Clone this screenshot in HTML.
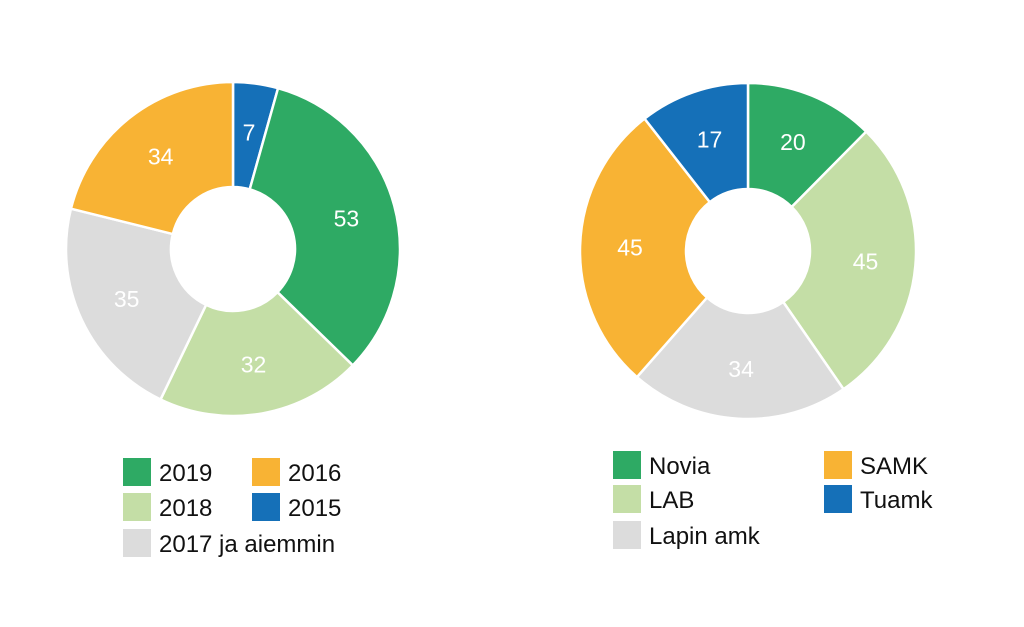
<!DOCTYPE html>
<html><head><meta charset="utf-8"><style>
html,body{margin:0;padding:0;background:#fff;}
svg{display:block;font-family:"Liberation Sans",sans-serif;}
</style></head><body>
<svg id="chart" width="1024" height="627" viewBox="0 0 1024 627">
<g id="left"></g>
<g id="right"></g>
<g id="legend-left"></g>
<g id="legend-right"></g>
</svg>
<script>
const leftCategories = ["2015","2019","2018","2017 ja aiemmin","2016"];
const leftValues = [7,53,32,35,34];
const leftColors = ["#1570b8","#2eaa64","#c4dea6","#dcdcdc","#f8b334"];
const rightCategories = ["Novia","LAB","Lapin amk","SAMK","Tuamk"];
const rightValues = [20,45,34,45,17];
const rightColors = ["#2eaa64","#c4dea6","#dcdcdc","#f8b334","#1570b8"];
const NS="http://www.w3.org/2000/svg";
function pt(cx,cy,r,a){return [cx+r*Math.sin(a), cy-r*Math.cos(a)];}
function donut(g,cx,cy,R,r,vals,cols,cats){
  const tot=vals.reduce((a,b)=>a+b,0);let a0=0;
  vals.forEach((v,i)=>{
    const a1=a0+v/tot*2*Math.PI;const lg=(a1-a0)>Math.PI?1:0;
    const p1=pt(cx,cy,R,a0),p2=pt(cx,cy,R,a1),p3=pt(cx,cy,r,a1),p4=pt(cx,cy,r,a0);
    const p=document.createElementNS(NS,"path");
    p.setAttribute("d",`M${p1}A${R},${R} 0 ${lg} 1 ${p2}L${p3}A${r},${r} 0 ${lg} 0 ${p4}Z`);
    p.setAttribute("fill",cols[i]);p.setAttribute("stroke","#fff");p.setAttribute("stroke-width","2.5");
    
    
    g.appendChild(p);
    const m=(a0+a1)/2;const lp=pt(cx,cy,(R+r)/2+3,m);
    const t=document.createElementNS(NS,"text");
    t.setAttribute("x",lp[0]);t.setAttribute("y",lp[1]+8);t.setAttribute("text-anchor","middle");
    t.setAttribute("font-size","23");t.setAttribute("fill","#fff");t.textContent=v;
    
    
    g.appendChild(t);
    a0=a1;
  });
}
donut(document.getElementById("left"),233,249,167,62,leftValues,leftColors,leftCategories);
donut(document.getElementById("right"),748,251,168,62,rightValues,rightColors,rightCategories);
function legend(g,items){
  items.forEach(it=>{
    const rc=document.createElementNS(NS,"rect");
    rc.setAttribute("x",it[0]);rc.setAttribute("y",it[1]-14);rc.setAttribute("width",28);rc.setAttribute("height",28);rc.setAttribute("fill",it[3]);
    
    
    g.appendChild(rc);
    const t=document.createElementNS(NS,"text");
    t.setAttribute("x",it[0]+36);t.setAttribute("y",it[1]+9);t.setAttribute("font-size","24");t.setAttribute("fill","#111");t.textContent=it[2];
    
    
    g.appendChild(t);
  });
}
legend(document.getElementById("legend-left"),[
 [123,472,"2019","#2eaa64"],[252,472,"2016","#f8b334"],
 [123,507,"2018","#c4dea6"],[252,507,"2015","#1570b8"],
 [123,543,"2017 ja aiemmin","#dcdcdc"]]);
legend(document.getElementById("legend-right"),[
 [613,465,"Novia","#2eaa64"],[824,465,"SAMK","#f8b334"],
 [613,499,"LAB","#c4dea6"],[824,499,"Tuamk","#1570b8"],
 [613,535,"Lapin amk","#dcdcdc"]]);
</script>
</body></html>
